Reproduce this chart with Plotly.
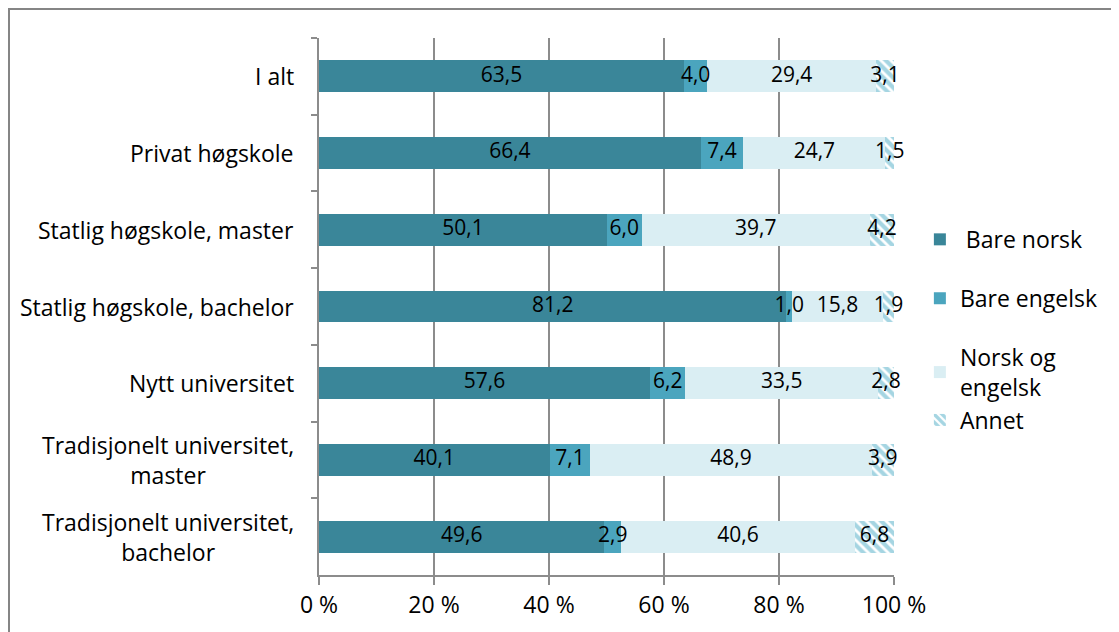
import plotly.graph_objects as go

categories = ["I alt", "Privat høgskole", "Statlig høgskole, master",
              "Statlig høgskole, bachelor", "Nytt universitet",
              "Tradisjonelt universitet, master", "Tradisjonelt universitet, bachelor"]
category_labels = ["I alt", "Privat høgskole", "Statlig høgskole, master",
                   "Statlig høgskole, bachelor", "Nytt universitet",
                   "Tradisjonelt universitet,<br>master", "Tradisjonelt universitet,<br>bachelor"]

bare_norsk = [63.5, 66.4, 50.1, 81.2, 57.6, 40.1, 49.6]
bare_engelsk = [4.0, 7.4, 6.0, 1.0, 6.2, 7.1, 2.9]
norsk_og_engelsk = [29.4, 24.7, 39.7, 15.8, 33.5, 48.9, 40.6]
annet = [3.1, 1.5, 4.2, 1.9, 2.8, 3.9, 6.8]

x_ticks = [0, 20, 40, 60, 80, 100]
x_tick_labels = ["0 %", "20 %", "40 %", "60 %", "80 %", "100 %"]

FONT = "Open Sans"
TXT = 21      # value labels
LBL = 23      # category labels, legend, axis ticks

def fmt(v):
    return f"{v:.1f}".replace(".", ",")

series = [
    (" Bare norsk", bare_norsk, dict(color="#3A8699"), "g0"),
    ("Bare engelsk", bare_engelsk, dict(color="#4BA5BE"), "g1"),
    ("Norsk og<br>engelsk", norsk_og_engelsk, dict(color="#DAEEF3"), "g2"),
    ("Annet", annet, dict(color="white",
                          pattern=dict(shape="\\", fgcolor="#4BACC6", bgcolor="white",
                                       size=7, solidity=0.6)), "g2"),
]

fig = go.Figure()
for name, vals, marker, grp in series:
    fig.add_trace(go.Bar(
        y=categories, x=vals, name=name, orientation="h",
        marker=dict(**marker, line=dict(width=0)),
        legendgroup=grp, hoverinfo="x+y",
    ))

# value labels on top of all bar segments (centred in each segment)
totals = [sum(s[1][i] for s in series) for i in range(len(categories))]
cum = [0.0] * len(categories)
for name, vals, marker, grp in series:
    mids = []
    for i, v in enumerate(vals):
        mids.append((cum[i] + v / 2) / totals[i] * 100)
        cum[i] += v
    fig.add_trace(go.Scatter(
        y=categories, x=mids, mode="text", text=[fmt(v) for v in vals],
        textposition="middle center", showlegend=False, hoverinfo="skip",
        textfont=dict(family=FONT, size=TXT, color="black"), cliponaxis=False,
    ))

for cat, lab in zip(categories, category_labels):
    fig.add_annotation(x=-0.04, xref="paper", y=cat, yref="y", text=lab,
                       showarrow=False, xanchor="right", align="center",
                       font=dict(family=FONT, size=LBL, color="black"))

fig.add_shape(type="rect", xref="paper", yref="paper",
              x0=(9 - 319) / 575, x1=(1140 - 319) / 575,
              y0=(577 - 650) / 539, y1=(577 - 9) / 539,
              line=dict(color="#858585", width=2), fillcolor="rgba(0,0,0,0)",
              layer="below")

# page body has an 8px margin: figure is shifted, so margins compensate
fig.update_layout(
    width=1111, height=624,
    barmode="stack", barnorm="percent", bargap=0.584,
    margin=dict(l=311, r=225, t=30, b=55),
    paper_bgcolor="white", plot_bgcolor="white",
    font=dict(family=FONT, size=LBL, color="black"),
    legend=dict(x=1.045, y=0.665, xanchor="left", yanchor="top",
                font=dict(family=FONT, size=LBL, color="black"),
                traceorder="grouped", tracegroupgap=26, itemwidth=30),
    showlegend=True,
)
fig.update_xaxes(range=[0, 100], tickvals=x_ticks, ticktext=x_tick_labels,
                 showgrid=True, gridcolor="#8C8C8C", gridwidth=2,
                 showline=True, linecolor="#8C8C8C", linewidth=2,
                 ticks="outside", ticklen=8, tickwidth=2, tickcolor="#8C8C8C",
                 zeroline=False, tickfont=dict(family=FONT, size=LBL))
fig.update_yaxes(autorange="reversed", showticklabels=False,
                 showline=True, linecolor="#8C8C8C", linewidth=2,
                 ticks="outside", tickson="boundaries", ticklen=6, tickwidth=2,
                 tickcolor="#8C8C8C", showgrid=False)

fig.write_html("out.html")
